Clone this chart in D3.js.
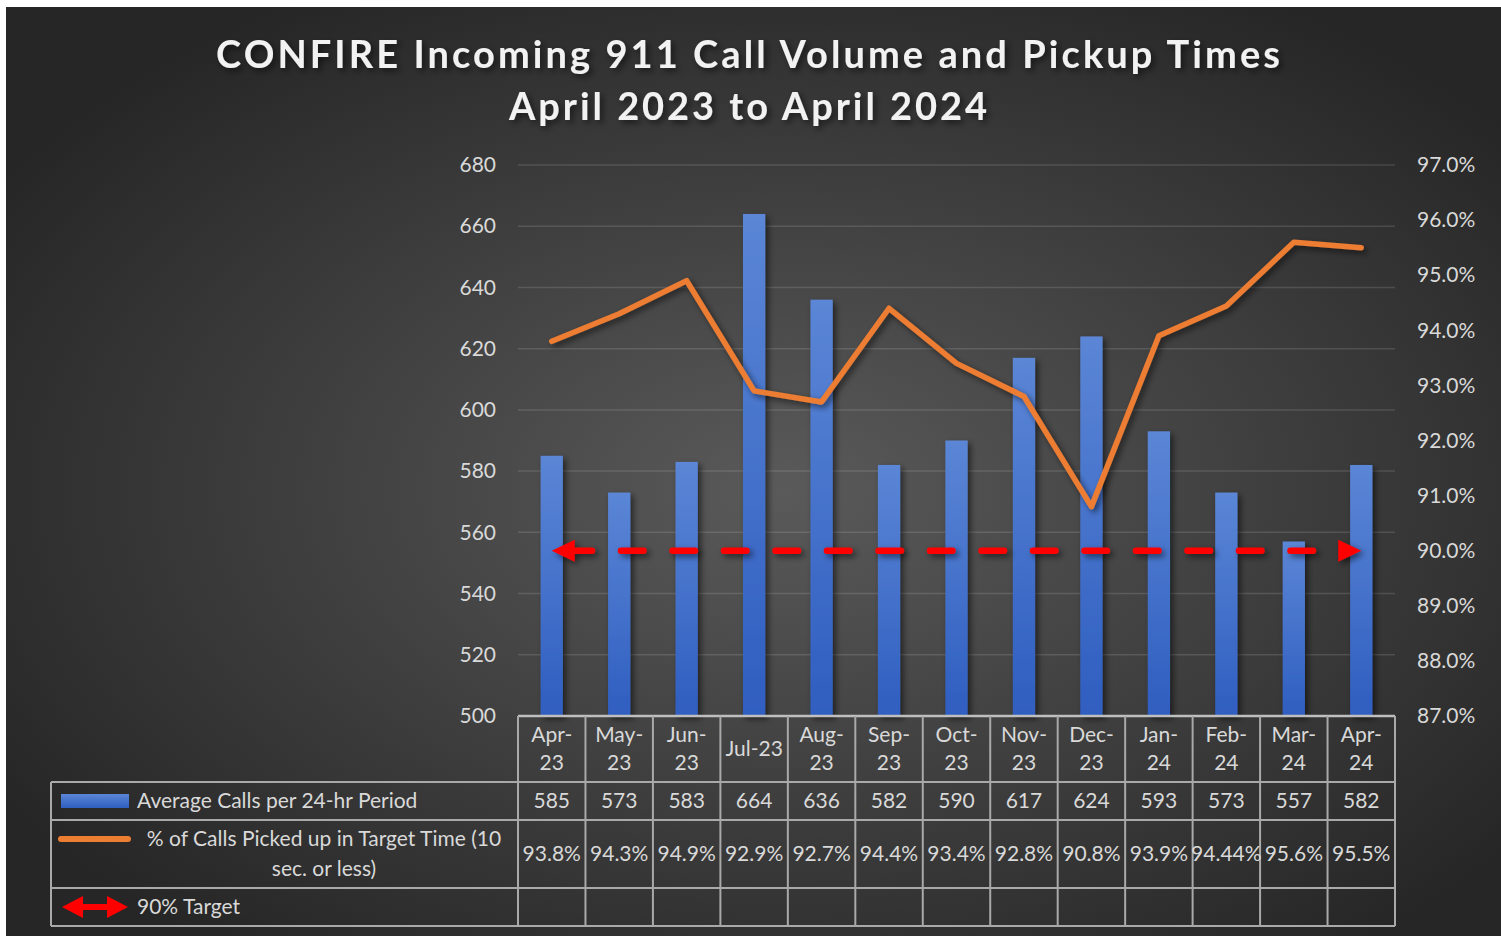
<!DOCTYPE html>
<html>
<head>
<meta charset="utf-8">
<script src="https://cdn.jsdelivr.net/npm/d3@7"></script>
<style>
  html, body { margin: 0; padding: 0; background: #fff; }
  svg { display: block; font-family: Lato, "Open Sans", sans-serif; }
</style>
</head>
<body>
<div id="chart"></div>
<script>
// #### data
const months = ['Apr-23', 'May-23', 'Jun-23', 'Jul-23', 'Aug-23', 'Sep-23', 'Oct-23',
  'Nov-23', 'Dec-23', 'Jan-24', 'Feb-24', 'Mar-24', 'Apr-24'];
const avgCalls = [585, 573, 583, 664, 636, 582, 590, 617, 624, 593, 573, 557, 582];
const pickupPct = [93.8, 94.3, 94.9, 92.9, 92.7, 94.4, 93.4, 92.8, 90.8, 93.9, 94.44, 95.6, 95.5];
const pickupLabels = ['93.8%', '94.3%', '94.9%', '92.9%', '92.7%', '94.4%', '93.4%',
  '92.8%', '90.8%', '93.9%', '94.44%', '95.6%', '95.5%'];
const targetPct = 90;
const leftTicks = [500, 520, 540, 560, 580, 600, 620, 640, 660, 680];
const rightTicks = [87, 88, 89, 90, 91, 92, 93, 94, 95, 96, 97];
const titleLines = ['CONFIRE Incoming 911 Call Volume and Pickup Times', 'April 2023 to April 2024'];
const seriesNames = ['Average Calls per 24-hr Period', '% of Calls Picked up in Target Time (10 sec. or less)', '90% Target'];

const W = 1501, H = 936;
const plot = { left: 518, right: 1395, top: 165, bottom: 716 };
const table = { left: 51, rows: [716, 782, 820, 888, 926] };
const textColor = '#d9d9d9';
const gridColor = 'rgba(255,255,255,0.13)';
const borderColor = '#a9a9a9';

const svg = d3.select('#chart').append('svg')
  .attr('width', W).attr('height', H);

const defs = svg.append('defs');
const bg = defs.append('radialGradient').attr('id', 'bg')
  .attr('cx', '52%').attr('cy', '52%').attr('r', '62%');
bg.append('stop').attr('offset', '0%').attr('stop-color', '#5a5a5a');
bg.append('stop').attr('offset', '100%').attr('stop-color', '#262626');

const barGrad = defs.append('linearGradient').attr('id', 'barGrad')
  .attr('x1', 0).attr('y1', 0).attr('x2', 0).attr('y2', 1);
barGrad.append('stop').attr('offset', '0%').attr('stop-color', '#5b86d6');
barGrad.append('stop').attr('offset', '100%').attr('stop-color', '#2f5ec0');

// user-space filter region so flat horizontal lines keep their shadow
const shadow = defs.append('filter').attr('id', 'shadow')
  .attr('filterUnits', 'userSpaceOnUse')
  .attr('x', 0).attr('y', 0).attr('width', W).attr('height', H);
shadow.append('feDropShadow').attr('dx', 3).attr('dy', 3).attr('stdDeviation', 3)
  .attr('flood-color', '#000').attr('flood-opacity', 0.55);

// background (the picture has a thin white margin top / left)
svg.append('rect').attr('x', 6).attr('y', 7).attr('width', W - 6).attr('height', H - 7)
  .attr('fill', 'url(#bg)');

// scales
const x = d3.scaleBand().domain(months).range([plot.left, plot.right]);
const yL = d3.scaleLinear().domain([500, 680]).range([plot.bottom, plot.top]);
const yR = d3.scaleLinear().domain([87, 97]).range([plot.bottom, plot.top]);
const cx = m => x(m) + x.bandwidth() / 2;
const barW = x.bandwidth() * 0.33;

// gridlines
svg.append('g').selectAll('line')
  .data(leftTicks.slice(1))
  .join('line')
  .attr('x1', plot.left).attr('x2', plot.right)
  .attr('y1', d => yL(d)).attr('y2', d => yL(d))
  .attr('stroke', gridColor).attr('stroke-width', 1.5);

// axes
const styleAxis = g => {
  g.select('.domain').remove();
  g.selectAll('.tick line').remove();
  g.selectAll('.tick text').attr('fill', textColor).attr('font-size', 21)
    .attr('font-family', 'Lato');
};
svg.append('g').attr('transform', `translate(${plot.left},0)`)
  .call(d3.axisLeft(yL).tickValues(leftTicks).tickSize(0).tickPadding(22))
  .call(styleAxis);
svg.append('g').attr('transform', `translate(${plot.right},0)`)
  .call(d3.axisRight(yR).tickValues(rightTicks).tickSize(0).tickPadding(22)
    .tickFormat(d => d3.format('.1f')(d) + '%'))
  .call(styleAxis);

// bars
svg.append('g').attr('filter', 'url(#shadow)')
  .selectAll('rect')
  .data(months)
  .join('rect')
  .attr('x', d => cx(d) - barW / 2)
  .attr('width', barW)
  .attr('y', (d, i) => yL(avgCalls[i]))
  .attr('height', (d, i) => yL(500) - yL(avgCalls[i]))
  .attr('fill', 'url(#barGrad)');

// 90% target dashed arrow line
const target = svg.append('g').attr('filter', 'url(#shadow)');
const ty = yR(targetPct);
const tx0 = cx(months[0]), tx1 = cx(months[months.length - 1]);
target.append('line')
  .attr('x1', tx0 + 24).attr('x2', tx1 - 22)
  .attr('y1', ty).attr('y2', ty)
  .attr('stroke', '#ff0000').attr('stroke-width', 6.5)
  .attr('stroke-dasharray', '22.5 29').attr('stroke-dashoffset', 6.25)
  .attr('stroke-linecap', 'round');
target.selectAll('path')
  .data([[tx0, 1], [tx1, -1]])
  .join('path')
  .attr('d', d => `M${d[0]},${ty} L${d[0] + d[1] * 23},${ty - 11} L${d[0] + d[1] * 23},${ty + 11} Z`)
  .attr('fill', '#ff0000');

// orange line
const line = d3.line().x((d, i) => cx(months[i])).y(d => yR(d));
svg.append('path')
  .datum(pickupPct)
  .attr('d', line)
  .attr('fill', 'none')
  .attr('stroke', '#ed7d31').attr('stroke-width', 5.5)
  .attr('stroke-linejoin', 'round').attr('stroke-linecap', 'round')
  .attr('filter', 'url(#shadow)');

// title
const title = svg.append('g').attr('filter', 'url(#shadow)');
title.selectAll('text')
  .data(titleLines)
  .join('text')
  .attr('x', 748)
  .attr('y', (d, i) => 68 + i * 52)
  .attr('text-anchor', 'middle')
  .attr('fill', '#f2f2f2')
  .attr('font-family', 'Lato')
  .attr('font-weight', 'bold')
  .attr('font-size', 38)
  .attr('textLength', (d, i) => i === 0 ? 1064 : 478)
  .attr('lengthAdjust', 'spacing')
  .text(d => d);

// ##### data table under the chart
const tbl = svg.append('g');
const [r0, r1, r2, r3, r4] = table.rows;

// horizontal rules
tbl.append('line').attr('x1', plot.left).attr('x2', plot.right).attr('y1', r0).attr('y2', r0)
  .attr('stroke', '#bfbfbf').attr('stroke-width', 2.5);
tbl.selectAll('.hrule')
  .data([r1, r2, r3, r4])
  .join('line')
  .attr('class', 'hrule')
  .attr('x1', table.left).attr('x2', plot.right)
  .attr('y1', d => d).attr('y2', d => d)
  .attr('stroke', borderColor).attr('stroke-width', 2);
// vertical rules
const colEdges = months.map(m => x(m)).concat([plot.right]);
tbl.selectAll('.vrule')
  .data(colEdges)
  .join('line')
  .attr('class', 'vrule')
  .attr('x1', d => d).attr('x2', d => d)
  .attr('y1', r0).attr('y2', r4)
  .attr('stroke', borderColor).attr('stroke-width', 2);
tbl.append('line').attr('x1', table.left).attr('x2', table.left).attr('y1', r1).attr('y2', r4)
  .attr('stroke', borderColor).attr('stroke-width', 2);

// month headers, wrapped after the dash when too wide
const header = tbl.selectAll('.month')
  .data(months)
  .join('text')
  .attr('class', 'month')
  .attr('text-anchor', 'middle')
  .attr('fill', textColor)
  .attr('font-size', 21)
  .attr('x', d => cx(d))
  .attr('y', (r0 + r1) / 2 + 7)
  .text(d => d);
header.each(function(d) {
  const t = d3.select(this);
  if (this.getComputedTextLength() > x.bandwidth() - 6) {
    const parts = [d.split('-')[0] + '-', d.split('-')[1]];
    t.text(null);
    parts.forEach((p, i) => {
      t.append('tspan').attr('x', cx(d)).attr('y', r0 + 26 + i * 28).text(p);
    });
  }
});

// value rows
tbl.selectAll('.calls')
  .data(avgCalls)
  .join('text')
  .attr('class', 'calls')
  .attr('text-anchor', 'middle').attr('fill', textColor).attr('font-size', 21)
  .attr('x', (d, i) => cx(months[i]))
  .attr('y', (r1 + r2) / 2 + 7)
  .text(d => d);
tbl.selectAll('.pct')
  .data(pickupLabels)
  .join('text')
  .attr('class', 'pct')
  .attr('text-anchor', 'middle').attr('fill', textColor).attr('font-size', 21)
  .attr('x', (d, i) => cx(months[i]))
  .attr('y', (r2 + r3) / 2 + 7)
  .text(d => d);

// legend column
const legX = 137;
tbl.append('rect').attr('x', 61).attr('y', 794).attr('width', 68).attr('height', 14)
  .attr('fill', 'url(#barGrad)');
tbl.append('text').attr('x', legX).attr('y', (r1 + r2) / 2 + 7)
  .attr('fill', textColor).attr('font-size', 21).text(seriesNames[0]);

tbl.append('line').attr('x1', 61).attr('x2', 128).attr('y1', 839).attr('y2', 839)
  .attr('stroke', '#ed7d31').attr('stroke-width', 6).attr('stroke-linecap', 'round');
const legPct = tbl.append('text').attr('text-anchor', 'middle')
  .attr('fill', textColor).attr('font-size', 21);
legPct.append('tspan').attr('x', 324).attr('y', 846).text('% of Calls Picked up in Target Time (10');
legPct.append('tspan').attr('x', 324).attr('y', 876).text('sec. or less)');

const ly = (r3 + r4) / 2;
tbl.append('line').attr('x1', 80).attr('x2', 108).attr('y1', ly).attr('y2', ly)
  .attr('stroke', '#ff0000').attr('stroke-width', 6).attr('stroke-linecap', 'round');
tbl.selectAll('.legArrow')
  .data([[62, 1], [128, -1]])
  .join('path')
  .attr('class', 'legArrow')
  .attr('d', d => `M${d[0]},${ly} L${d[0] + d[1] * 21},${ly - 11} L${d[0] + d[1] * 21},${ly + 11} Z`)
  .attr('fill', '#ff0000');
tbl.append('text').attr('x', legX).attr('y', ly + 7)
  .attr('fill', textColor).attr('font-size', 21).text(seriesNames[2]);
</script>
</body>
</html>
